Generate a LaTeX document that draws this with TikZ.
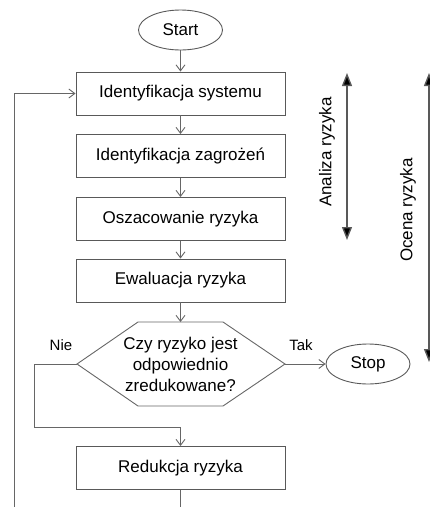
\documentclass[tikz,border=0pt]{standalone}
\usepackage{fontspec}
\setmainfont{Liberation Sans}
\usetikzlibrary{arrows.meta,shapes.geometric}
\begin{document}
\begin{tikzpicture}[x=1pt,y=-1pt,
  flow/.style={draw=black!60, line width=0.9pt, -{Straight Barb[length=6pt,width=9pt]}},
  plain/.style={draw=black!60, line width=0.9pt},
  stepbox/.style={draw=black!65, line width=0.9pt, rectangle, minimum width=209pt, minimum height=43pt, inner sep=0pt, font=\fontsize{17}{20}\selectfont},
  term/.style={draw=black!65, line width=0.9pt, ellipse, minimum width=84pt, minimum height=40pt, inner sep=0pt, font=\fontsize{17}{20}\selectfont},
  lab/.style={font=\fontsize{15}{18}\selectfont, inner sep=0pt},
  side/.style={draw=black!65, line width=1.4pt, {Triangle[length=13pt,width=10pt,fill=black]}-{Triangle[length=13pt,width=10pt,fill=black]}},
  sidetext/.style={font=\fontsize{17}{20}\selectfont, rotate=90, inner sep=0pt}
]
\useasboundingbox (0,0) rectangle (430,507);
\node[term] (start) at (180.5,30) {Start};
\node[stepbox] (b1) at (180.5,93.5) {Identyfikacja systemu};
\node[stepbox] (b2) at (180.5,156) {Identyfikacja zagrożeń};
\node[stepbox] (b3) at (180.5,219) {Oszacowanie ryzyka};
\node[stepbox] (b4) at (180.5,280.5) {Ewaluacja ryzyka};
\node[align=center, inner sep=0pt, font=\fontsize{17}{21}\selectfont] (dec) at (180.5,364) {Czy ryzyko jest\\odpowiednio\\zredukowane?};
\draw[plain] (138,322) -- (223,322) -- (285,364) -- (223,406) -- (138,406) -- (77,364) -- cycle;
\coordinate (decT) at (180.5,322);
\coordinate (decL) at (77,364);
\coordinate (decR) at (285,364);
\node[term] (stop) at (368,364) {Stop};
\node[stepbox] (b5) at (180.5,468) {Redukcja ryzyka};
\node[lab] (tak) at (301,345) {Tak};
\node[lab] (nie) at (61,345) {Nie};

\draw[flow] (start) -- (b1);
\draw[flow] (b1) -- (b2);
\draw[flow] (b2) -- (b3);
\draw[flow] (b3) -- (b4);
\draw[flow] (b4) -- (decT);
\draw[flow] (decR) -- (stop);
\coordinate (nieA) at (34,364);
\coordinate (nieB) at (180.5,427);
\draw[flow] (decL) -- (nieA) |- (nieB) -- (b5.north);
\coordinate (bot1) at (180.5,508);
\coordinate (bot2) at (14,508);
\draw[plain] (b5.south) -- (bot1);
\draw[flow] (bot2) |- (b1.west);

\coordinate (aT) at (347,73);
\coordinate (aB) at (347,240);
\draw[side] (aT) -- (aB);
\node[sidetext] (atext) at (327,152) {Analiza ryzyka};
\coordinate (oT) at (429,73);
\coordinate (oB) at (429,362);
\draw[side] (oT) -- (oB);
\node[sidetext] (otext) at (408,210) {Ocena ryzyka};
\end{tikzpicture}
\end{document}
